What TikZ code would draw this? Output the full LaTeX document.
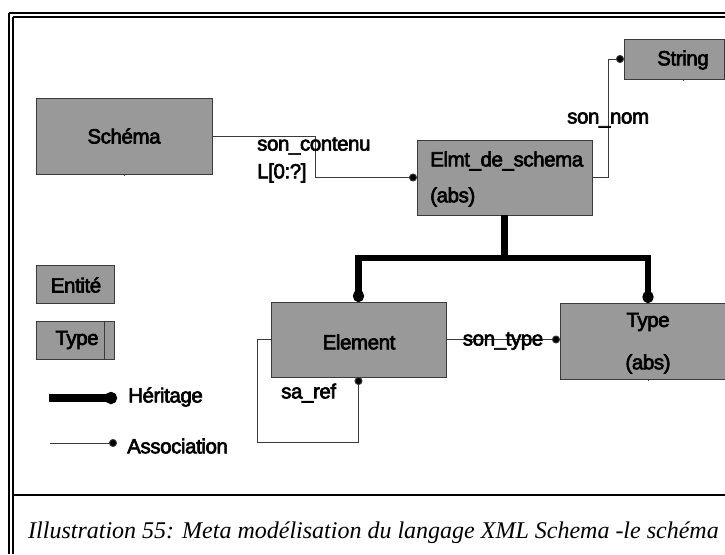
\documentclass[tikz,border=0pt]{standalone}
\usepackage{fontspec}
\setmainfont{Liberation Serif}
\newfontfamily\diafont[FakeBold=3,LetterSpace=-2]{Liberation Sans}
\usetikzlibrary{arrows.meta,calc}
\definecolor{boxgray}{HTML}{999999}
\definecolor{edgegray}{HTML}{3A3A3A}
\begin{document}
\begin{tikzpicture}[x=1pt,y=-1pt,
  box/.style={draw=edgegray,line width=0.9pt,fill=boxgray,inner sep=0pt,outer sep=0pt,
              anchor=north west,minimum width=#1},
  lbl/.style={font=\diafont\fontsize{20.5}{22}\selectfont,inner sep=0pt,text=black},
  assoc/.style={draw=edgegray,line width=0.9pt,-{Circle[length=8pt,fill=black]}},
  inherit/.style={line width=6.5pt,-{Ellipse[length=12pt,width=11pt]}},
  framerule/.style={line width=2pt},
]
\useasboundingbox (0,0) rectangle (725,554);

% double frame and caption rule
\draw[framerule] (9,13) -- (725,13);
\draw[framerule] (9,13) -- (9,554);
\draw[framerule] (12.5,16.5) -- (725,16.5);
\draw[framerule] (12.5,16.5) -- (12.5,554);
\draw[framerule] (12.5,495) -- (725,495);

% entities
\node[box=176pt,minimum height=76pt] (schema) at (36,98) {};
\node[box=175pt,minimum height=75pt] (elmt) at (417,140) {};
\node[box=100pt,minimum height=40pt] (string) at (624,39) {};
\node[box=175pt,minimum height=75pt] (element) at (271,302) {};
\node[box=176pt,minimum height=76pt] (typebox) at (560,303) {};

% legend boxes
\node[box=78pt,minimum height=38pt] (legent) at (36,265) {};
\node[box=78pt,minimum height=38pt] (legtype) at (36,321) {};
\draw[edgegray,line width=0.9pt] ($(legtype.north east)+(-10,0)$) -- ($(legtype.south east)+(-10,0)$);

% small stubs under boxes
\draw[edgegray,line width=0.9pt] (schema.south) -- ++(0,2);
\draw[edgegray,line width=0.9pt] ($(string.south west)+(59,0)$) -- ++(0,2);
\draw[edgegray,line width=0.9pt] (typebox.south) -- ++(0,2);

% texts in boxes
\node[lbl] (tschema) at (124,136) {Schéma};
\node[lbl,anchor=west] (telmt) at (430,161) {Elmt\_de\_schema};
\node[lbl,anchor=west] (telmtabs) at (430,197) {(abs)};
\node[lbl] (tstring) at (683,60) {String};
\node[lbl] (telement) at (359,342) {Element};
\node[lbl] (ttype) at (648,322) {Type};
\node[lbl] (ttypeabs) at (648,364) {(abs)};
\node[lbl] (tent) at (76,285) {Entité};
\node[lbl] (tlegtype) at (77,340) {Type};

% associations
\draw[assoc] (schema.east) -- ++(103,0) |- (elmt.west);
\draw[assoc] (elmt.east) -- ++(16,0) |- (string.west);
\draw[assoc] (element.east) -- (element.east -| typebox.west);
\draw[assoc] (element.west) -- ++(-14,0) -- ++(0,103) -| (element.south);

% inheritance
\draw[line width=6.5pt] (elmt.south) -- ++(0,43) coordinate (hj);
\draw[inherit] (hj) -| (element.north);
\draw[inherit] (hj) -| (typebox.north);

% association labels
\node[lbl,anchor=west] (lcont) at (257,146) {son\_contenu};
\node[lbl,anchor=west] (lcard) at (257,173) {L[0:?]};
\node[lbl,anchor=west] (lnom) at (567,120) {son\_nom};
\node[lbl] (ltype) at (503,341) {son\_type};
\node[lbl,anchor=west] (lref) at (281,393) {sa\_ref};

% legend lines
\coordinate (hstart) at (49,398);
\coordinate (hend) at (117,398);
\draw[line width=8.5pt,-{Ellipse[length=12pt,width=12pt]}] (hstart) -- (hend);
\node[lbl,anchor=west] (lher) at (128,397) {Héritage};
\coordinate (astart) at (50,443);
\coordinate (aend) at (117,443);
\draw[assoc] (astart) -- (aend);
\node[lbl,anchor=west] (lass) at (127,446) {Association};

% caption
\node[anchor=west,inner sep=0pt,font=\itshape\fontsize{24}{26}\selectfont] (caption) at (28,533)
  {Illustration 55: Meta modélisation du langage XML Schema -le schéma};
\end{tikzpicture}
\end{document}
